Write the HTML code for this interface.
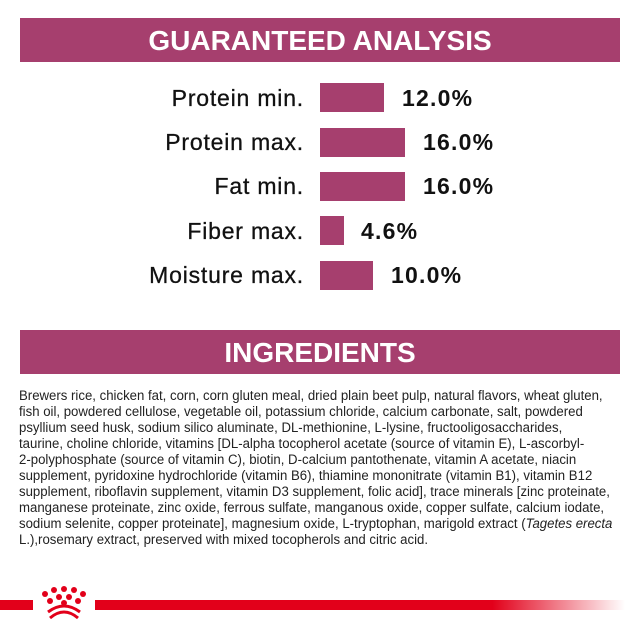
<!DOCTYPE html>
<html><head><style>
body{margin:0;width:640px;height:640px;background:#fff;position:relative;overflow:hidden;font-family:"Liberation Sans",sans-serif}
.band{position:absolute;left:20px;width:600px;height:44px;background:#a63f6e;color:#fff;font-weight:bold;font-size:28px;text-align:center;line-height:46px;letter-spacing:0}
.lab{position:absolute;right:336px;font-size:23px;color:#111;white-space:nowrap;letter-spacing:0.8px;-webkit-text-stroke:0.3px #111}
.bar{position:absolute;left:320px;height:29px;background:#a63f6e}
.val{position:absolute;font-size:23px;font-weight:bold;color:#111;letter-spacing:1.2px}
.ing{position:absolute;left:19px;top:388px;font-size:13.4px;line-height:16px;color:#222;transform:scaleX(0.985);transform-origin:0 0}
.ing div{white-space:nowrap}
</style></head><body>
<div class="band" style="top:18px">GUARANTEED ANALYSIS</div>
<div class="lab" style="top:85px">Protein min.</div><div class="bar" style="top:83px;width:64px"></div><div class="val" style="left:402px;top:85px">12.0%</div>
<div class="lab" style="top:129px">Protein max.</div><div class="bar" style="top:128px;width:85px"></div><div class="val" style="left:423px;top:129px">16.0%</div>
<div class="lab" style="top:173px">Fat min.</div><div class="bar" style="top:172px;width:85px"></div><div class="val" style="left:423px;top:173px">16.0%</div>
<div class="lab" style="top:218px">Fiber max.</div><div class="bar" style="top:216px;width:24px"></div><div class="val" style="left:361px;top:218px">4.6%</div>
<div class="lab" style="top:262px">Moisture max.</div><div class="bar" style="top:261px;width:53px"></div><div class="val" style="left:391px;top:262px">10.0%</div>
<div class="band" style="top:330px">INGREDIENTS</div>
<div class="ing">
<div>Brewers rice, chicken fat, corn, corn gluten meal, dried plain beet pulp, natural flavors, wheat gluten,</div>
<div>fish oil, powdered cellulose, vegetable oil, potassium chloride, calcium carbonate, salt, powdered</div>
<div>psyllium seed husk, sodium silico aluminate, DL-methionine, L-lysine, fructooligosaccharides,</div>
<div>taurine, choline chloride, vitamins [DL-alpha tocopherol acetate (source of vitamin E), L-ascorbyl-</div>
<div>2-polyphosphate (source of vitamin C), biotin, D-calcium pantothenate, vitamin A acetate, niacin</div>
<div>supplement, pyridoxine hydrochloride (vitamin B6), thiamine mononitrate (vitamin B1), vitamin B12</div>
<div>supplement, riboflavin supplement, vitamin D3 supplement, folic acid], trace minerals [zinc proteinate,</div>
<div>manganese proteinate, zinc oxide, ferrous sulfate, manganous oxide, copper sulfate, calcium iodate,</div>
<div>sodium selenite, copper proteinate], magnesium oxide, L-tryptophan, marigold extract (<i>Tagetes erecta</i></div>
<div>L.),rosemary extract, preserved with mixed tocopherols and citric acid.</div>
</div>
<div style="position:absolute;left:0;top:600px;width:33px;height:10px;background:#e2001a"></div>
<div style="position:absolute;left:95px;top:600px;width:530px;height:10px;background:linear-gradient(to right,#e2001a 0%,#e2001a 75%,rgba(226,0,26,0) 100%)"></div>
<svg style="position:absolute;left:36px;top:585px" width="56" height="36" viewBox="0 0 56 36">
<g fill="#e2001a">
<circle cx="28" cy="4" r="3"/><circle cx="18" cy="5" r="3"/><circle cx="38" cy="5" r="3"/>
<circle cx="9" cy="9" r="3"/><circle cx="47" cy="9" r="3"/>
<circle cx="23" cy="12" r="3"/><circle cx="33" cy="12" r="3"/>
<circle cx="14" cy="16" r="3"/><circle cx="42" cy="16" r="3"/><circle cx="28" cy="18" r="3"/>
</g>
<path d="M12 27 Q28 15 44 27" stroke="#e2001a" stroke-width="3" fill="none"/>
<path d="M14 33 Q28 21 42 33" stroke="#e2001a" stroke-width="3" fill="none"/>
</svg>
</body></html>
